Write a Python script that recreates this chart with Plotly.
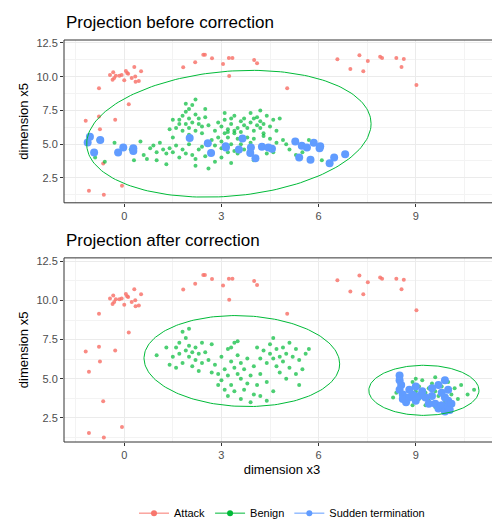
import numpy as np
import plotly.graph_objects as go
from plotly.subplots import make_subplots

# Attack (same in both panels)
atk_x = [-1.19, -0.78, -0.78, -0.75, -0.28, 0.14, -1.09, -0.63, -0.65, -0.07, -1.09,
         -0.44, -0.34, -0.36, -0.26, -0.15, -0.08, 0.0, 0.05, 0.09, 0.12, 0.23, 0.31, 0.34, 0.35, 0.45, 0.52, -0.31,
         1.82, 2.19, 2.44, 2.49, 2.71, 3.05, 3.23, 3.34, 3.24, 4.01, 4.10, 5.03,
         6.58, 6.98, 7.26, 7.38, 7.52, 7.90, 7.96, 8.40, 8.56, 8.63, 9.02]
atk_y = [6.74, 9.15, 7.04, 6.10, 6.80, 7.96, 1.54, 1.24, 3.56, 1.92, 5.45,
         10.12, 10.32, 9.78, 10.07, 10.07, 10.12, 9.73, 10.42, 10.27, 10.22, 9.90, 10.72, 10.02, 9.63, 9.68, 10.40, 9.90,
         10.70, 11.07, 11.62, 11.62, 11.37, 10.95, 11.39, 11.39, 10.05, 11.24, 10.99, 9.15,
         11.29, 10.57, 11.59, 10.40, 11.17, 11.47, 11.39, 11.39, 10.72, 11.32, 9.38]

# Benign, before correction
ben1_x = [1.6, 1.7, 1.8, 1.8, 1.9, 1.9, 2.0, 2.0, 2.1, 2.1, 2.2, 2.2, 2.3, 2.3, 2.4, 2.5, 1.7, 2.0, 2.4, 1.5, 2.6, 2.2, 1.9, 2.5, 1.4, 2.0,
          2.8, 2.9, 3.0, 3.0, 3.1, 3.1, 3.2, 3.2, 3.3, 3.3, 3.4, 3.4, 3.5, 3.5, 3.6, 3.6, 3.7, 3.7, 3.8, 2.9, 3.0, 3.2, 3.4, 3.3, 3.1, 3.5, 2.7, 3.9, 3.6, 3.2, 3.4,
          3.7, 3.8, 3.9, 3.9, 4.0, 4.0, 4.1, 4.1, 4.2, 4.2, 4.3, 4.3, 4.4, 4.5, 4.5, 4.6, 4.7, 4.7, 4.6, 4.4, 4.8, 4.2, 4.0, 4.9,
          -0.9, -0.8, -0.6, -0.3, 0.0, 0.2, 0.3, 0.5, 0.6, 0.8, 0.9, 1.0, 1.1, 1.2, 1.3, 1.4, 1.5, 1.6, 1.7, 1.8, 1.9, 2.0, 2.1, 2.2,
          2.3, 2.4, 2.5, 2.6, 2.7, 1.0, 0.7, 1.3, 2.2, 2.8, 2.6, 0.3, 1.5, 2.8, 3.0, 3.3, 4.0, 4.3, 5.0, 5.1, 5.3, 5.7, 6.1, 5.5]
ben1_y = [6.2, 6.8, 7.1, 6.0, 6.5, 7.4, 6.9, 6.2, 6.6, 7.9, 7.2, 6.0, 6.5, 6.9, 6.3, 7.0, 6.5, 5.7, 5.8, 6.8, 6.4, 8.3, 8.0, 7.6, 6.1, 7.6,
          6.0, 5.5, 6.3, 5.2, 5.8, 6.8, 5.5, 6.1, 5.0, 6.5, 5.8, 7.1, 5.4, 6.2, 5.0, 5.9, 4.6, 6.4, 5.5, 6.6, 4.7, 4.4, 4.5, 6.9, 7.3, 4.3, 5.3, 5.1, 6.7, 5.9, 6.0,
          6.9, 6.2, 6.6, 7.3, 6.0, 6.9, 6.4, 7.0, 6.2, 6.7, 5.8, 6.5, 7.1, 6.3, 5.4, 6.8, 6.0, 5.1, 4.4, 4.3, 6.9, 7.5, 5.4, 5.3,
          4.0, 5.3, 3.7, 5.1, 4.7, 4.6, 4.4, 5.2, 4.2, 4.7, 4.9, 4.4, 5.1, 4.6, 4.3, 4.7, 4.4, 4.9, 4.0, 4.6, 4.3, 5.0, 4.2, 3.9,
          4.6, 4.8, 4.1, 5.0, 4.4, 3.8, 3.9, 3.5, 3.4, 3.7, 3.2, 3.8, 5.5, 4.9, 4.0, 3.6, 3.8, 5.6, 5.0, 4.6, 4.2, 5.3, 3.8, 4.4]

# Benign, after correction
ben2_x = [1.5, 1.6, 1.7, 1.7, 1.8, 1.9, 1.9, 2.0, 2.0, 2.1, 2.1, 2.2, 2.2, 2.3, 2.4, 2.4, 2.5, 1.3, 1.0, 1.4, 2.0, 1.8, 2.6, 2.7, 1.6, 2.3,
          2.8, 2.9, 3.0, 3.0, 3.1, 3.2, 3.2, 3.3, 3.3, 3.4, 3.4, 3.5, 3.5, 3.6, 3.6, 3.7, 3.7, 3.8, 3.8, 3.9, 4.0, 4.0, 4.1, 4.2, 4.2,
          3.9, 3.6, 3.4, 3.1, 2.9, 4.4, 4.6, 3.3, 3.5, 2.7, 4.4, 3.2,
          4.2, 4.3, 4.4, 4.5, 4.5, 4.6, 4.7, 4.7, 4.8, 4.9, 4.9, 5.0, 5.1, 5.1, 5.2, 5.3, 5.4, 5.5, 5.6, 5.3, 4.6, 4.1, 5.7, 5.0, 5.4, 4.8,
          8.4, 8.6, 8.7, 8.8, 8.9, 9.0, 9.1, 9.1, 9.2, 9.3, 9.4, 9.4, 9.5, 9.6, 9.6, 9.7, 9.8, 9.8, 9.9, 10.0, 10.1, 10.2, 10.3, 10.4,
          10.6, 10.8, 8.9, 9.3, 9.6, 8.3, 9.0, 9.7]
ben2_y = [6.4, 7.0, 6.6, 7.3, 6.0, 6.8, 7.6, 6.4, 7.1, 6.7, 5.8, 7.0, 6.2, 6.6, 7.3, 6.0, 6.7, 7.0, 6.5, 5.9, 8.2, 8.0, 6.2, 7.2, 5.7, 5.5,
          5.9, 5.3, 6.4, 4.9, 5.6, 6.9, 5.2, 6.1, 4.6, 5.7, 7.3, 5.3, 6.5, 5.0, 6.0, 4.3, 5.6, 6.3, 4.7, 5.2, 4.0, 5.8, 4.6, 5.3, 3.9,
          3.5, 3.7, 4.2, 4.3, 4.6, 4.8, 4.2, 7.0, 7.4, 5.4, 3.6, 3.9,
          6.3, 6.8, 6.0, 6.6, 7.2, 6.3, 5.8, 6.9, 6.4, 7.0, 6.1, 6.6, 5.7, 7.3, 6.4, 6.9, 6.2, 5.6, 6.6, 5.3, 7.6, 7.0, 6.9, 5.0, 4.6, 5.4,
          4.1, 4.6, 3.9, 4.4, 4.8, 4.2, 3.7, 4.5, 4.9, 4.1, 4.4, 3.6, 4.7, 4.2, 5.1, 3.9, 4.5, 4.2, 3.5, 4.8, 4.0, 4.4, 3.7, 4.6,
          4.0, 4.3, 3.3, 3.3, 3.2, 3.8, 5.0, 4.6]

# Sudden termination
sud1_x = [-1.06, -1.13, -0.93, -0.74, -0.19, -0.03, 0.28, 0.28, 2.02, 2.58, 2.68, 3.13, 3.14, 3.54, 3.65, 3.89,
          4.05, 3.91, 4.25, 4.45, 4.56, 5.28, 5.48, 5.64, 5.85, 6.05, 6.03, 5.40, 5.75, 6.48, 6.34, 6.82]
sud1_y = [5.55, 5.12, 4.38, 5.30, 4.38, 4.75, 4.50, 4.70, 5.45, 5.07, 4.35, 4.85, 4.75, 4.60, 5.42, 4.35,
          3.95, 4.75, 4.80, 4.75, 4.65, 5.20, 4.88, 4.75, 5.10, 4.85, 4.70, 4.00, 3.85, 4.00, 3.58, 4.25]
sud2_x = [8.5, 8.5, 8.55, 8.5, 8.6, 8.6, 8.7, 8.8, 8.9, 9.0, 9.1, 9.2, 8.8, 9.0, 9.3, 9.5, 9.6, 9.7, 9.8, 9.9,
          10.0, 10.0, 10.1, 9.9, 9.8, 9.7, 9.9, 10.0, 9.5, 9.4, 10.05]
sud2_y = [5.2, 4.9, 4.6, 4.3, 4.0, 3.7, 3.5, 3.8, 4.0, 3.6, 3.9, 4.2, 4.3, 4.5, 3.8, 3.9, 3.4, 3.1, 3.3, 2.9,
          3.2, 3.6, 3.4, 3.8, 4.1, 4.6, 4.9, 4.3, 4.4, 3.4, 3.0]

# ellipse parameters: centre x, centre y, half width, half height, slope
ell_before = [(3.23, 5.77, 4.39, 4.64, 0.17)]
ell_after = [(3.63, 6.13, 3.02, 2.9, -0.06), (9.25, 4.26, 1.7, 1.6, 0.0)]

RED, GREEN, BLUE = "#F8766D", "#00BA38", "#619CFF"

fig = make_subplots(rows=2, cols=1, vertical_spacing=0.1)
t = np.linspace(0, 2 * np.pi, 200)


def add_panel(row, bx, by, sx, sy, ells):
    fig.add_trace(go.Scatter(x=atk_x, y=atk_y, mode="markers", showlegend=False,
                             marker=dict(color=RED, size=4, opacity=0.85)), row=row, col=1)
    fig.add_trace(go.Scatter(x=bx, y=by, mode="markers", showlegend=False,
                             marker=dict(color=GREEN, size=4, opacity=0.7)), row=row, col=1)
    fig.add_trace(go.Scatter(x=sx, y=sy, mode="markers", showlegend=False,
                             marker=dict(color=BLUE, size=8)), row=row, col=1)
    for cx, cy, a, b, k in ells:
        ex = cx + a * np.cos(t)
        ey = cy + b * np.sin(t) + k * a * np.cos(t)
        fig.add_trace(go.Scatter(x=ex, y=ey, mode="lines", showlegend=False,
                                 line=dict(color=GREEN, width=1)), row=row, col=1)


add_panel(1, ben1_x, ben1_y, sud1_x, sud1_y, ell_before)
add_panel(2, ben2_x, ben2_y, sud2_x, sud2_y, ell_after)

# legend entries
for nm, c in [("Attack", RED), ("Benign", GREEN), ("Sudden termination", BLUE)]:
    fig.add_trace(go.Scatter(x=[None], y=[None], mode="lines+markers", name=nm,
                             line=dict(color=c, width=1), marker=dict(color=c, size=6)), row=1, col=1)

ax = dict(showgrid=True, gridcolor="#EBEBEB", gridwidth=1, zeroline=False,
          showline=False, automargin=False,
          ticks="outside", tickcolor="#333333", ticklen=3,
          tickfont=dict(size=11, color="#4D4D4D"))
fig.update_xaxes(**ax, range=[-1.86, 11.6], tickvals=[0, 3, 6, 9],
                 minor=dict(showgrid=True, gridcolor="#F3F3F3", tickvals=[-1.5, 1.5, 4.5, 7.5, 10.5], ticks=""))
fig.update_yaxes(**ax, tickvals=[2.5, 5.0, 7.5, 10.0, 12.5], ticktext=["2.5", "5.0", "7.5", "10.0", "12.5"],
                 minor=dict(showgrid=True, gridcolor="#F3F3F3", tickvals=[1.25, 3.75, 6.25, 8.75, 11.25], ticks=""))
fig.update_yaxes(range=[0.65, 12.72], domain=[0.595, 1.0], title_text="dimension x5", row=1, col=1)
fig.update_yaxes(range=[0.96, 12.72], domain=[0.0, 0.458], title_text="dimension x5", row=2, col=1)
fig.update_xaxes(title_text="dimension x3", row=2, col=1)
fig.update_xaxes(title_font=dict(size=13, color="black"), title_standoff=4)
fig.update_yaxes(title_font=dict(size=13, color="black"), title_standoff=4)

# panel borders
for xr, yr in [("x", "y"), ("x2", "y2")]:
    fig.add_shape(type="rect", xref=xr + " domain", yref=yr + " domain", x0=0, x1=1, y0=0, y1=1,
                  line=dict(color="#333333", width=1))

fig.add_annotation(text="Projection before correction", xref="paper", yref="paper", x=0, y=1.0,
                   yshift=6, xanchor="left", yanchor="bottom", showarrow=False, font=dict(size=17, color="black"))
fig.add_annotation(text="Projection after correction", xref="paper", yref="paper", x=0, y=0.458,
                   yshift=6, xanchor="left", yanchor="bottom", showarrow=False, font=dict(size=17, color="black"))

fig.update_layout(
    width=500, height=531,
    margin=dict(l=56, r=8, t=32, b=97),
    plot_bgcolor="white", paper_bgcolor="white",
    font=dict(family="Liberation Sans, Arial", color="black"),
    legend=dict(orientation="h", x=0.5, xanchor="center", y=-0.177, yanchor="middle", font=dict(size=11)),
)

fig.write_html("out.html")
